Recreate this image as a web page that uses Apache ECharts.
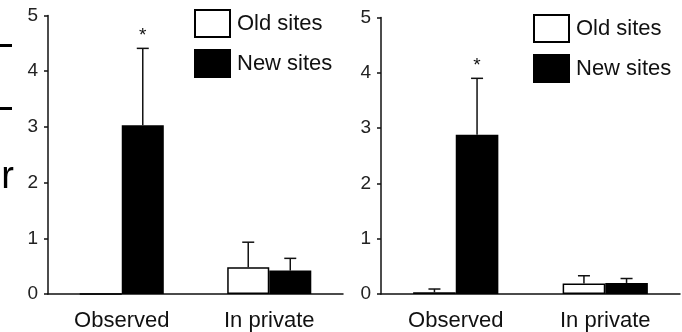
<!DOCTYPE html>
<html><head><meta charset="utf-8">
<script src="https://cdn.jsdelivr.net/npm/echarts@6/dist/echarts.min.js"></script>
<style>html,body{margin:0;padding:0;background:#fff}#c{width:682px;height:332px}</style>
</head><body><div id="c"></div>
<script>
// ---- data ----
const categories = ['Observed', 'In private'];
const seriesNames = ['Old sites', 'New sites'];
const yMin = 0, yMax = 5, yStep = 1;
// left panel
const leftOld = [0, 0.48];
const leftOldErr = [null, 0.93];
const leftNew = [3.03, 0.42];
const leftNewErr = [4.41, 0.64];
const leftSig = ['*', ''];
// right panel
const rightOld = [0.03, 0.19];
const rightOldErr = [0.09, 0.33];
const rightNew = [2.88, 0.20];
const rightNewErr = [3.90, 0.28];
const rightSig = ['*', ''];

const BARFRAC = 0.285; // bar width as a fraction of the category band
const FONT = '"Liberation Sans", Arial, Helvetica, sans-serif';
const INK = '#111';

function errSeries(vals, tops, side, sig, axisIdx) {
  const data = [];
  vals.forEach((v, i) => { if (tops[i] != null) data.push([i, v, tops[i]]); });
  return {
    type: 'custom', xAxisIndex: axisIdx, yAxisIndex: axisIdx, silent: true, z: 5,
    data: data,
    renderItem: function (params, api) {
      const ci = api.value(0), v = api.value(1), top = api.value(2);
      const band = api.size([1, 0])[0];
      const x = api.coord([ci, 0])[0] + side * band * BARFRAC / 2;
      const y0 = api.coord([ci, v])[1];
      const y1 = api.coord([ci, top])[1];
      const cap = 6;
      const children = [
        { type: 'line', shape: { x1: x, y1: y0, x2: x, y2: y1 }, style: { stroke: INK, lineWidth: 1.5 } },
        { type: 'line', shape: { x1: x - cap, y1: y1, x2: x + cap, y2: y1 }, style: { stroke: INK, lineWidth: 1.5 } }
      ];
      const s = sig[ci];
      if (s) {
        children.push({ type: 'text', style: { text: s, x: x, y: y1 - 13, align: 'center', verticalAlign: 'middle', fontSize: 19, fontFamily: FONT, fill: INK } });
      }
      return { type: 'group', children: children };
    }
  };
}

function barSeries(name, vals, axisIdx, filled) {
  return {
    name: name, type: 'bar', xAxisIndex: axisIdx, yAxisIndex: axisIdx,
    data: vals, barGap: '0%', barCategoryGap: (100 - 2 * BARFRAC * 100) + '%',
    itemStyle: { color: filled ? '#000' : '#fff', borderColor: '#000', borderWidth: 1.5 },
    emphasis: { disabled: true }, z: 3
  };
}

const legendData = [
  { name: 'Old sites', itemStyle: { color: '#fff', borderColor: '#000', borderWidth: 2 } },
  { name: 'New sites', itemStyle: { color: '#000', borderColor: '#000', borderWidth: 2 } }
];
function legend(left, top) {
  return {
    data: legendData, orient: 'vertical', left: left, top: top, padding: 0,
    itemWidth: 35, itemHeight: 27, itemGap: 11, icon: 'rect', selectedMode: false,
    textStyle: { fontSize: 22, fontFamily: FONT, color: INK, padding: [0, 0, 0, 2] }
  };
}

function xAxis(idx) {
  return {
    type: 'category', gridIndex: idx, data: categories,
    axisLine: { lineStyle: { color: INK, width: 1.5 } },
    axisTick: { show: false },
    axisLabel: { fontSize: 22, fontFamily: FONT, color: INK, margin: 16 }
  };
}
function yAxis(idx) {
  return {
    type: 'value', gridIndex: idx, min: yMin, max: yMax, interval: yStep,
    axisLine: { show: true, lineStyle: { color: INK, width: 1.5 } },
    axisTick: { show: true, length: 4, lineStyle: { color: INK, width: 1.5 } },
    splitLine: { show: false },
    axisLabel: { fontSize: 19, fontFamily: FONT, color: '#222', margin: 10 }
  };
}

const chart = echarts.init(document.getElementById('c'), null, { renderer: 'canvas' });
chart.setOption({
  animation: false,
  backgroundColor: '#fff',
  grid: [
    { left: 48, right: 339, top: 15.5, bottom: 38 },
    { left: 381, right: 2, top: 17.5, bottom: 36.5 }
  ],
  legend: [legend(194, 9), legend(533, 14)],
  xAxis: [xAxis(0), xAxis(1)],
  yAxis: [yAxis(0), yAxis(1)],
  series: [
    barSeries(seriesNames[0], leftOld, 0, false),
    barSeries(seriesNames[1], leftNew, 0, true),
    barSeries(seriesNames[0], rightOld, 1, false),
    barSeries(seriesNames[1], rightNew, 1, true),
    errSeries(leftOld, leftOldErr, -1, ['', ''], 0),
    errSeries(leftNew, leftNewErr, 1, leftSig, 0),
    errSeries(rightOld, rightOldErr, -1, ['', ''], 1),
    errSeries(rightNew, rightNewErr, 1, rightSig, 1)
  ],
  graphic: [
    { type: 'rect', shape: { x: 0, y: 44, width: 12, height: 3 }, style: { fill: '#000' }, silent: true },
    { type: 'rect', shape: { x: 0, y: 107, width: 12, height: 3 }, style: { fill: '#000' }, silent: true },
    { type: 'text', style: { text: 'r', x: 14, y: 197, align: 'right', verticalAlign: 'bottom', fontSize: 38, fontFamily: FONT, fill: '#000' }, silent: true }
  ]
});
</script>
</body></html>
